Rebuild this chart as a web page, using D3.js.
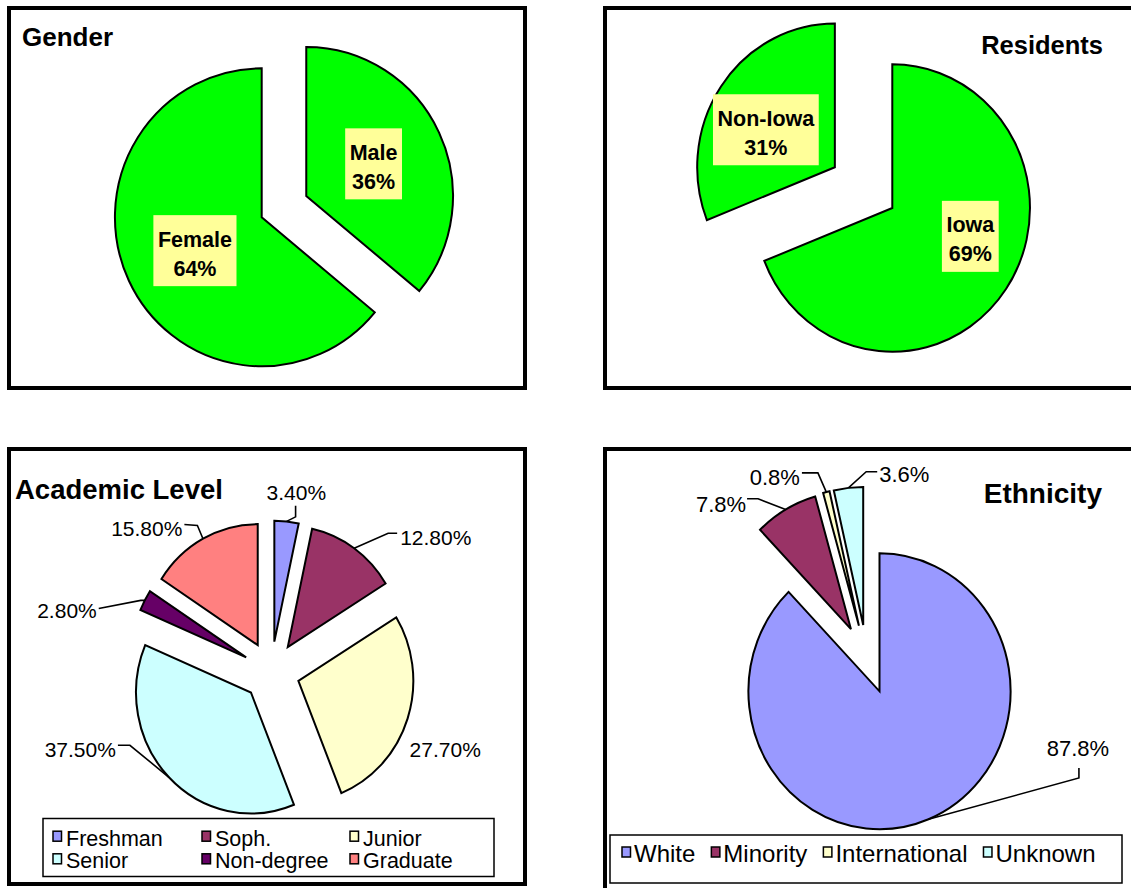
<!DOCTYPE html>
<html>
<head>
<meta charset="utf-8">
<script src="https://cdn.jsdelivr.net/npm/d3@7"></script>
<style>
  body { margin: 0; background: #fff; }
  svg { display: block; }
  text { font-family: "Liberation Sans", Arial, sans-serif; fill: #000; }
</style>
</head>
<body>
<svg id="chart" width="1131" height="888"></svg>
<script>
// ---- data ----
const genderCats = ["Male", "Female"];
const genderVals = [36, 64];

const residentCats = ["Iowa", "Non-Iowa"];
const residentVals = [69, 31];

const levelCats = ["Freshman", "Soph.", "Junior", "Senior", "Non-degree", "Graduate"];
const levelVals = [3.4, 12.8, 27.7, 37.5, 2.8, 15.8];
const levelLabels = ["3.40%", "12.80%", "27.70%", "37.50%", "2.80%", "15.80%"];

const ethCats = ["White", "Minority", "International", "Unknown"];
const ethVals = [87.8, 7.8, 0.8, 3.6];
const ethLabels = ["87.8%", "7.8%", "0.8%", "3.6%"];

// ---- colours ----
const green = "#00FF00";
const labelBox = "#FFFF99";
const levelColors = ["#9999FF", "#993366", "#FFFFCC", "#CCFFFF", "#660066", "#FF8080"];
const ethColors = ["#9999FF", "#993366", "#FFFFCC", "#CCFFFF"];

const svg = d3.select("#chart");
const rad = Math.PI / 180;

// panel frames
const panels = [
  { x: 9, y: 8, w: 516, h: 380 },
  { x: 605, y: 8, w: 540, h: 380 },
  { x: 9, y: 449, w: 516, h: 435 },
  { x: 605, y: 449, w: 540, h: 450 }
];
svg.selectAll("rect.panel").data(panels).join("rect")
  .attr("class", "panel")
  .attr("x", d => d.x).attr("y", d => d.y)
  .attr("width", d => d.w).attr("height", d => d.h)
  .attr("fill", "#fff").attr("stroke", "#000").attr("stroke-width", 4);

function drawPie(opt) {
  const g = svg.append("g");
  const arcs = d3.pie().sort(null).value(d => d)(opt.values);
  const arc = d3.arc().innerRadius(0).outerRadius(opt.r);
  const color = d3.scaleOrdinal().domain(opt.cats).range(opt.colors);

  arcs.forEach((a, i) => {
    a.mid = (a.startAngle + a.endAngle) / 2;
    const dir = (opt.explodeDir && opt.explodeDir[i] != null) ? opt.explodeDir[i] * rad : a.mid;
    const d = opt.explode[i];
    a.ox = opt.cx + d * Math.sin(dir) * opt.sx;
    a.oy = opt.cy - d * Math.cos(dir);
  });

  g.selectAll("path").data(arcs).join("path")
    .attr("transform", a => `translate(${a.ox},${a.oy}) scale(${opt.sx},1)`)
    .attr("d", arc)
    .attr("fill", (a, i) => color(opt.cats[i]))
    .attr("stroke", "#000")
    .attr("stroke-width", 2)
    .attr("vector-effect", "non-scaling-stroke");

  opt.g = g;
  opt.arcs = arcs;
  return opt;
}

function pt(a, opt, t, rr) {
  return [a.ox + rr * Math.sin(t) * opt.sx, a.oy - rr * Math.cos(t)];
}

// yellow boxed labels inside slices
function boxLabels(opt) {
  opt.arcs.forEach((a, i) => {
    const t = a.mid + opt.labelShift[i] * rad;
    const [x, y] = pt(a, opt, t, opt.labelR[i] * opt.r);
    const lg = opt.g.append("g").attr("transform", `translate(${x},${y})`);
    const lines = [opt.cats[i], opt.values[i] + "%"];
    const txt = lg.selectAll("text").data(lines).join("text")
      .attr("text-anchor", "middle")
      .attr("y", (d, k) => k === 0 ? -4 : 25)
      .style("font-size", "21.5px")
      .style("font-weight", "bold")
      .text(d => d);
    let w = 0;
    txt.each(function() { w = Math.max(w, this.getComputedTextLength()); });
    lg.insert("rect", "text")
      .attr("x", -w / 2 - 4.5).attr("y", -35.5)
      .attr("width", w + 9).attr("height", 71)
      .attr("fill", labelBox);
  });
}

// outside labels with leader lines
function leaderLabels(opt) {
  opt.arcs.forEach((a, i) => {
    const s = opt.lead[i];
    let p = pt(a, opt, a.mid, opt.r);
    if (s.path) {
      const pts = [p];
      s.path.forEach(o => { p = [p[0] + o[0], p[1] + o[1]]; pts.push(p); });
      opt.g.append("path")
        .attr("d", d3.line()(pts))
        .attr("fill", "none").attr("stroke", "#000").attr("stroke-width", 1.6);
    }
    opt.g.append("text")
      .attr("x", p[0] + s.text[0]).attr("y", p[1] + s.text[1])
      .attr("text-anchor", s.anchor)
      .style("font-size", opt.fontSize + "px")
      .text(opt.labels[i]);
  });
}

function title(x, y, size, anchor, str) {
  svg.append("text").attr("x", x).attr("y", y)
    .attr("text-anchor", anchor)
    .style("font-size", size + "px").style("font-weight", "bold")
    .text(str);
}

// ---- Gender ----
const gender = drawPie({
  cats: genderCats, values: genderVals, colors: [green, green],
  cx: 261.7, cy: 217.3, r: 149, sx: 0.985,
  explode: [50, 0]
});
gender.labelR = [0.507, 0.507];
gender.labelShift = [0, -1];
boxLabels(gender);
title(22, 46, 26, "start", "Gender");

// ---- Residents ----
const res = drawPie({
  cats: residentCats, values: residentVals, colors: [green, green],
  cx: 892.3, cy: 208, r: 143.7, sx: 0.958,
  explode: [0, 72.5]
});
res.labelR = [0.6, 0.565];
res.labelShift = [-15, -6.7];
boxLabels(res);
title(1103, 54.3, 25.5, "end", "Residents");

// ---- Academic Level ----
const level = drawPie({
  cats: levelCats, values: levelVals, colors: levelColors,
  cx: 271.3, cy: 671.5, r: 121, sx: 0.95,
  explode: [30, 30, 30, 30, 30, 30]
});
level.labels = levelLabels;
level.fontSize = 21;
level.lead = [
  { path: [[9, -4.5], [0, -11]], text: [0.8, -6], anchor: "middle" },
  { path: [[34, -15], [9, 0]], text: [3, 12], anchor: "start" },
  { path: null, text: [2, 38], anchor: "start" },
  { path: [[-39, -32], [-12, 0]], text: [-2, 12], anchor: "end" },
  { path: [[-4, 0], [-42, 8]], text: [-2, 10], anchor: "end" },
  { path: [[-5.6, -13.3], [-13, -1]], text: [-2, 12], anchor: "end" }
];
leaderLabels(level);
title(15, 498.5, 27.5, "start", "Academic Level");

// legend: academic level
const lvLegend = svg.append("g");
lvLegend.append("rect")
  .attr("x", 43).attr("y", 818.5).attr("width", 451).attr("height", 58)
  .attr("fill", "#fff").attr("stroke", "#000").attr("stroke-width", 1.5);
const lvCols = [53, 202, 350];
const lvRows = [845.7, 868.3];
const lvItems = lvLegend.selectAll("g.item").data(levelCats).join("g")
  .attr("class", "item")
  .attr("transform", (d, i) => `translate(${lvCols[i % 3]},${lvRows[Math.floor(i / 3)]})`);
lvItems.append("rect")
  .attr("x", 0).attr("y", -14.5).attr("width", 8.5).attr("height", 10)
  .attr("fill", (d, i) => levelColors[i]).attr("stroke", "#000").attr("stroke-width", 1.5);
lvItems.append("text")
  .attr("x", 13).attr("y", 0)
  .style("font-size", "21.5px")
  .text(d => d);

// ---- Ethnicity ----
const eth = drawPie({
  cats: ethCats, values: ethVals, colors: ethColors,
  cx: 879.5, cy: 691.3, r: 138, sx: 0.95,
  explode: [0, 69, 69, 68.5],
  explodeDir: [null, 334.2, 341.7, 345.5]
});
eth.labels = ethLabels;
eth.fontSize = 22;
eth.lead = [
  { path: [[150.4, -41.3], [0, -10]], text: [-1, -12], anchor: "middle" },
  { path: [[-27.6, -10.7], [-11, 0]], text: [-1, 12.7], anchor: "end" },
  { path: [[-8.4, -19.3], [-16, 0]], text: [-2, 12], anchor: "end" },
  { path: [[17.8, -16.1], [11, 0]], text: [2, 10.7], anchor: "start" }
];
leaderLabels(eth);
title(1102, 502.7, 28, "end", "Ethnicity");

// legend: ethnicity (single row)
const ethLegend = svg.append("g");
ethLegend.append("rect")
  .attr("x", 610).attr("y", 835).attr("width", 512).attr("height", 48)
  .attr("fill", "#fff").attr("stroke", "#000").attr("stroke-width", 1.5);
let lx = 622;
ethCats.forEach((c, i) => {
  ethLegend.append("rect")
    .attr("x", lx).attr("y", 847).attr("width", 8.5).attr("height", 10)
    .attr("fill", ethColors[i]).attr("stroke", "#000").attr("stroke-width", 1.5);
  const t = ethLegend.append("text")
    .attr("x", lx + 12).attr("y", 862)
    .style("font-size", "24px")
    .text(c);
  lx += 12 + t.node().getComputedTextLength() + 16;
});
</script>
</body>
</html>
